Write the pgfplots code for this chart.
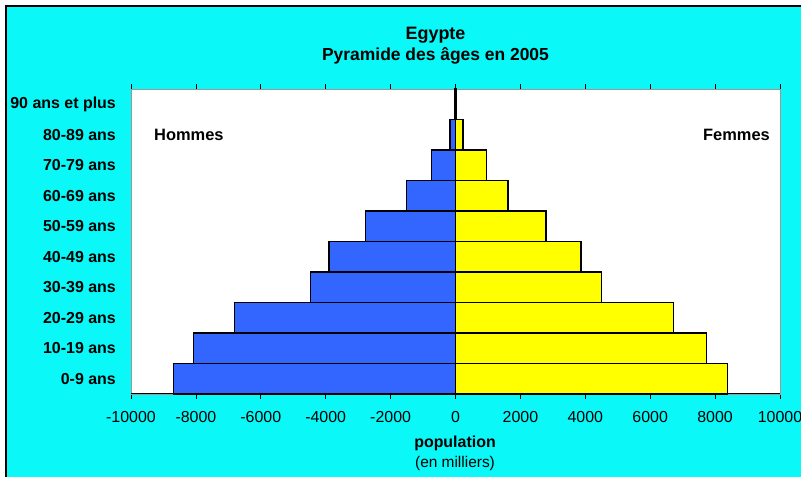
\documentclass[border=0pt]{standalone}
\usepackage{pgfplots}
\pgfplotsset{compat=1.18}
\usepackage{pgfplotstable}
\usepackage{fontspec}
\setmainfont{Liberation Sans}
\definecolor{bgcyan}{RGB}{10,248,248}
\definecolor{menblue}{RGB}{51,102,255}
\definecolor{womyellow}{RGB}{255,255,0}
\pgfplotstableread{
idx men women
0 -8700 8380
1 -8080 7740
2 -6820 6710
3 -4480 4510
4 -3900 3870
5 -2770 2790
6 -1520 1620
7 -750 960
8 -170 230
9 -20 30
}\datatable
\begin{document}
\begin{tikzpicture}[x=1bp,y=1bp]
\fill[white] (0,0) rectangle (801,477);
\fill[bgcyan] (6,0) rectangle (801,471);
\draw[black, line width=1.5bp] (6,0) -- (6,471) -- (801,471);
\node[font=\fontsize{18}{20}\selectfont\bfseries, anchor=base, inner sep=0pt] at (435.5,437) {Egypte};
\node[font=\fontsize{17.5}{20}\selectfont\bfseries, anchor=base, inner sep=0pt] at (435.5,416) {Pyramide des âges en 2005};
\begin{axis}[at={(131bp,83bp)}, anchor=south west, scale only axis,
  width=649bp, height=305bp,
  xmin=-10000, xmax=10000, ymin=-0.5, ymax=9.5,
  scaled x ticks=false,
  xtick={-10000,-8000,-6000,-4000,-2000,0,2000,4000,6000,8000,10000},
  xticklabels={-10000,-8000,-6000,-4000,-2000,0,2000,4000,6000,8000,10000},
  ytick={0,1,2,3,4,5,6,7,8,9},
  yticklabels={0-9 ans,10-19 ans,20-29 ans,30-39 ans,40-49 ans,50-59 ans,60-69 ans,70-79 ans,80-89 ans,90 ans et plus},
  axis background/.style={fill=white},
  axis line style={draw=gray!80, line width=0.8bp},
  tick align=outside,
  major tick length=5bp,
  xtick style={black, line width=0.8bp},
  ytick style={draw=none},
  xticklabel style={font=\fontsize{16}{18}\selectfont, inner sep=0pt, anchor=north, yshift=-12bp},
  yticklabel style={font=\fontsize{16}{18}\selectfont\bfseries, inner sep=0pt, anchor=east, xshift=-10bp},
  xbar, bar width=1, bar shift=0pt,
  clip=false,
]
\addplot[fill=menblue, draw=black, line width=1.2bp] table[x=men, y=idx] {\datatable};
\addplot[fill=womyellow, draw=black, line width=1.2bp] table[x=women, y=idx] {\datatable};
\draw[black, line width=3bp] (axis cs:0,8.5) -- (axis cs:0,9.5);
\draw[black, line width=1bp] (rel axis cs:0,0) -- (rel axis cs:1,0);
\end{axis}
\node[font=\fontsize{16.5}{18}\selectfont\bfseries, anchor=base west, inner sep=0pt] at (154,336) {Hommes};
\node[font=\fontsize{16.5}{18}\selectfont\bfseries, anchor=base east, inner sep=0pt] at (770,336) {Femmes};
\node[font=\fontsize{16}{18}\selectfont\bfseries, anchor=base, inner sep=0pt] at (455,29) {population};
\node[font=\fontsize{15.5}{18}\selectfont, anchor=base, inner sep=0pt] at (455,9) {(en milliers)};
\pgfresetboundingbox
\path[use as bounding box] (0,0) rectangle (801,477);
\end{tikzpicture}
\end{document}
